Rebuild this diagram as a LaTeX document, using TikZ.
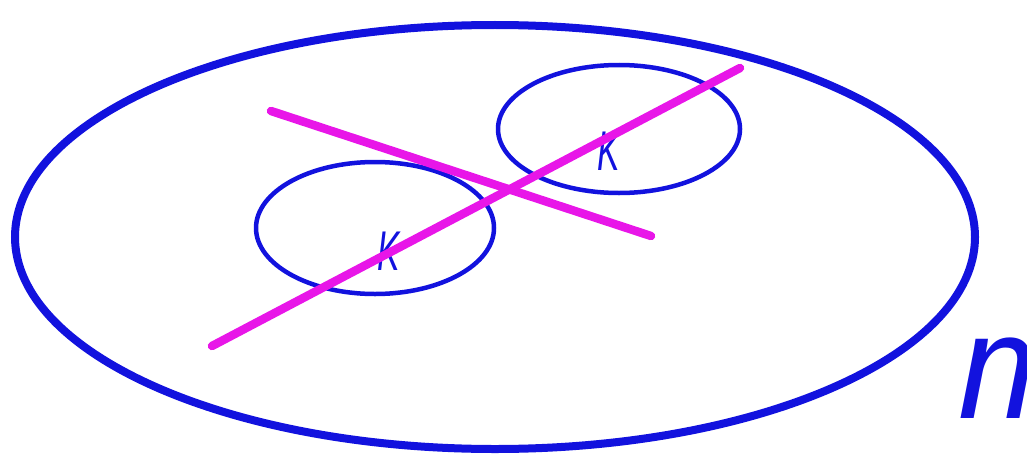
\documentclass[tikz,border=0pt]{standalone}
\usepackage{fontspec}
\setmainfont{Liberation Sans}
\usepackage{tikz}
\usetikzlibrary{shapes.geometric}
\definecolor{PlaneBlue}{RGB}{18,18,222}
\definecolor{LineMagenta}{RGB}{232,22,232}

\begin{document}
\begin{tikzpicture}[
    x=1pt, y=-1pt,
    oval/.style={ellipse, draw=PlaneBlue, inner sep=0pt},
    cut/.style={draw=LineMagenta, line width=8.5pt, line cap=round},
    letter/.style={text=PlaneBlue, inner sep=0pt, font=\fontsize{56}{56}\selectfont\itshape, xscale=0.6}
  ]
  \useasboundingbox (0,0) rectangle (1027,460);
  \clip (0,0) rectangle (1027,460);
  % plane and the two small circles
  \node[oval, line width=8pt, minimum width=960pt, minimum height=424pt] (plane) at (495,237) {};
  \node[oval, line width=4.5pt, minimum width=238pt, minimum height=132pt] (left) at (375,228) {};
  \node[oval, line width=4.5pt, minimum width=242pt, minimum height=128pt] (right) at (619,129) {};
  \node[letter] (kleft) at (389,251) {K};
  \node[letter] (kright) at (609,151) {K};
  \node[anchor=base west, text=PlaneBlue, inner sep=0pt, font=\fontsize{150}{150}\selectfont\itshape] (m) at (958,418) {m};
  % the two crossing lines
  \coordinate (a1) at (212,346);
  \coordinate (a2) at (740,68);
  \coordinate (b1) at (271,111);
  \coordinate (b2) at (651,236);
  \draw[cut] (a1) -- (a2);
  \draw[cut] (b1) -- (b2);
\end{tikzpicture}
\end{document}
